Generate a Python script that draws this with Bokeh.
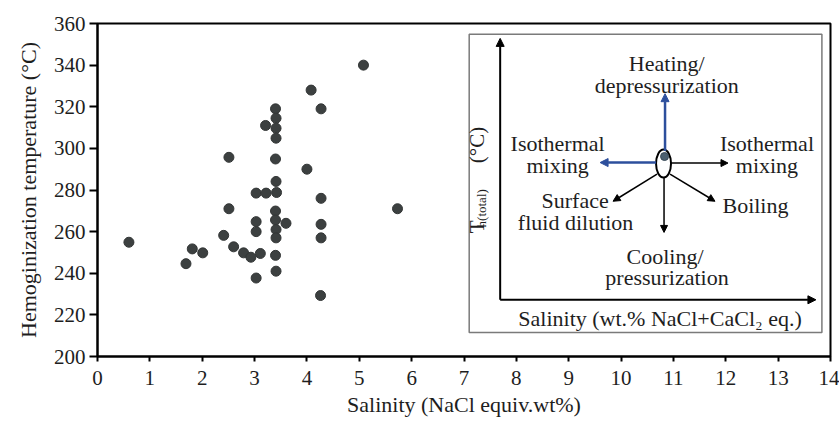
import math
from bokeh.plotting import figure
from bokeh.models import Range1d, FixedTicker, Arrow, NormalHead
from bokeh.embed import file_html
from bokeh.resources import INLINE
from bokeh.core.properties import value

# ---- data ----
salinity = [5.08, 4.08, 3.40, 4.27, 3.41, 3.21, 3.41, 3.41, 2.51, 3.40,
            4.00, 3.41, 3.03, 3.22, 3.42, 4.27, 2.51, 5.73, 3.40, 3.03,
            3.40, 3.60, 4.27, 3.41, 3.03, 2.41, 3.41, 4.27, 0.60, 2.60,
            1.81, 2.01, 2.79, 2.93, 3.11, 3.40, 1.69, 3.41, 3.03, 4.26]
temperature = [340.0, 328.0, 319.0, 319.0, 314.5, 311.0, 309.7, 304.9, 295.7, 294.9,
               290.0, 284.1, 278.5, 278.5, 278.8, 276.0, 271.0, 271.0, 269.9, 264.8,
               265.6, 264.0, 263.5, 261.0, 260.0, 258.2, 257.0, 257.0, 254.9, 252.7,
               251.7, 249.8, 249.8, 247.7, 249.5, 248.6, 244.6, 241.0, 237.7, 229.3]
x_ticks = list(range(0, 15))
y_ticks = list(range(200, 361, 20))
right_ticks = [325.6, 290.7, 256.3, 221.8]

x_title = "Salinity (NaCl equiv.wt%)"
y_title = "Hemoginization temperature (\u00b0C)"

inset_texts = ["Heating/", "depressurization", "Isothermal", "mixing",
               "Isothermal", "mixing", "Surface", "fluid dilution", "Boiling",
               "Cooling/", "pressurization", "Salinity (wt.% NaCl+CaCl\u2082 eq.)"]

FONT = "'Liberation Serif', 'Times New Roman', serif"
SERIF = value(FONT)
INK = "#1e1e1e"

p = figure(width=839, height=425, x_range=Range1d(0, 14), y_range=Range1d(200, 360),
           output_backend="svg", toolbar_location=None,
           min_border_left=97, min_border_top=23, min_border_bottom=69, min_border_right=9)
p.grid.visible = False
p.outline_line_color = "black"
p.outline_line_width = 2
p.background_fill_color = "white"

for ax in (p.xaxis[0], p.yaxis[0]):
    ax.axis_line_width = 2
    ax.major_tick_line_width = 2
    ax.minor_tick_line_color = None
    ax.major_tick_in = 0
    ax.major_label_text_font = FONT
    ax.major_label_text_font_size = "21px"
    ax.major_label_text_color = INK
    ax.axis_label_text_font = FONT
    ax.axis_label_text_font_size = "22px"
    ax.axis_label_text_font_style = "normal"
    ax.axis_label_text_color = INK

p.xaxis.ticker = FixedTicker(ticks=x_ticks)
p.yaxis.ticker = FixedTicker(ticks=y_ticks)
p.xaxis.axis_label = x_title
p.yaxis.axis_label = y_title
p.xaxis.major_tick_out = 5
p.xaxis.major_label_standoff = 9
p.xaxis.axis_label_standoff = 4
p.yaxis.major_tick_out = 8
p.yaxis.major_label_standoff = 4
p.yaxis.axis_label_standoff = 10

# data points
p.scatter(salinity, temperature, size=10, fill_color="#3c4040", line_color="#333636")

# ---- inset schematic (placed by pixel position of the reference) ----
def X(px):
    return (px - 97.0) / 52.4

def Y(py):
    return 200.0 + (356.4 - py) / 2.07

# outward ticks on the right frame edge
for t in right_ticks:
    p.add_layout(Arrow(end=None, x_start=14, y_start=t, x_end=X(836), y_end=t,
                       line_color="black", line_width=2))

p.quad(left=X(469), right=X(822), top=Y(36), bottom=Y(332.5),
       fill_color="white", line_color="#7a7a7a", line_width=1.5)

def arrow(x0, y0, x1, y1, color, width, size):
    p.add_layout(Arrow(end=NormalHead(size=size, fill_color=color, line_color=color),
                       x_start=X(x0), y_start=Y(y0), x_end=X(x1), y_end=Y(y1),
                       line_color=color, line_width=width))

# inset axes
arrow(500, 300, 500, 40, "black", 2, 8)
arrow(500, 300, 816, 300, "black", 2, 8)

BLUE = "#2d4f9c"
arrow(665, 152, 665, 95, BLUE, 2.5, 8)
arrow(656, 163.5, 600, 163.5, BLUE, 2.5, 8)
arrow(671, 164, 728, 164, "black", 1.5, 7)
arrow(664, 178, 664, 233, "black", 1.5, 7)
arrow(657, 175, 613, 202, "black", 1.5, 7)
arrow(670, 175, 715, 202, "black", 1.5, 7)

p.ellipse(x=X(663.5), y=Y(164.5), width=15, height=28,
          width_units="screen", height_units="screen",
          fill_color="white", line_color="black", line_width=2)
p.scatter(x=[X(664.5)], y=[Y(157.5)], size=8, fill_color="#4b5f70", line_color="#3a4a58")

tx = [666.7, 666.7, 557.5, 557.5, 767, 767, 575, 575.5, 755.5, 665, 667, 660]
ty = [65, 86.7, 145, 166.7, 145, 166.7, 201.7, 223.3, 206.7, 257, 277.5, 318.3]
p.text(x=[X(v) for v in tx], y=[Y(v) for v in ty], text=inset_texts,
       text_font=SERIF, text_font_size="22px", text_color=INK,
       text_align="center", text_baseline="middle")

# inset y label: T_h(total) (°C), rotated
p.text(x=[X(477)], y=[Y(227.5)], text=["T"], angle=math.pi / 2,
       text_font=SERIF, text_font_size="21px", text_color=INK,
       text_align="center", text_baseline="middle")
p.text(x=[X(481)], y=[Y(209)], text=["h(total)"], angle=math.pi / 2,
       text_font=SERIF, text_font_size="13px", text_color=INK,
       text_align="center", text_baseline="middle")
p.text(x=[X(477)], y=[Y(146)], text=["(\u00b0C)"], angle=math.pi / 2,
       text_font=SERIF, text_font_size="21px", text_color=INK,
       text_align="center", text_baseline="middle")

open("out.html", "w").write(file_html(p, INLINE))
